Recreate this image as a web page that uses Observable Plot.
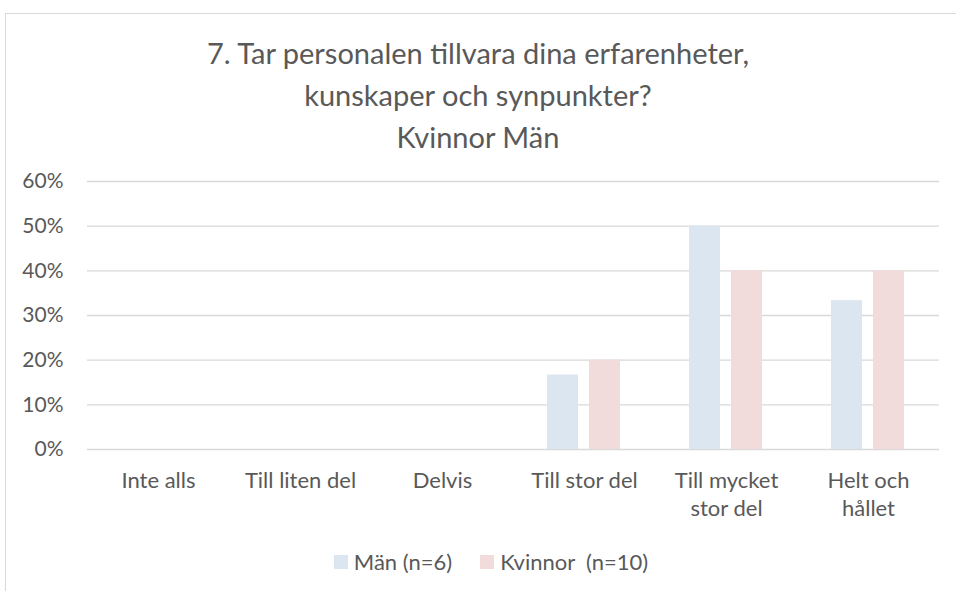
<!DOCTYPE html>
<html>
<head>
<meta charset="utf-8">
<script src="https://cdn.jsdelivr.net/npm/d3@7"></script>
<script src="https://cdn.jsdelivr.net/npm/@observablehq/plot@0.6"></script>
<style>
  html, body { margin: 0; padding: 0; }
  body { width: 956px; height: 591px; overflow: hidden; background: #fff; position: relative;
         font-family: Lato, "Open Sans", sans-serif; color: #595959; }
  #frame { position: absolute; left: 5px; top: 13px; width: 1000px; height: 1000px;
           border: 1px solid #d9d9d9; box-sizing: border-box; }
  #title { position: absolute; left: 0; top: 32px; width: 956px; text-align: center;
           font-size: 29px; line-height: 42px; }
  #chart { position: absolute; left: 0; top: 160px; }
  #legend { position: absolute; left: 0; top: 548px; width: 982px; display: flex;
            justify-content: center; align-items: center; font-size: 22px; white-space: pre; }
  .item { display: flex; align-items: center; margin: 0 14px; }
  .sw { display: inline-block; width: 14px; height: 14px; margin-right: 6px; }
</style>
</head>
<body>
<div id="frame"></div>
<div id="title"></div>
<div id="chart"></div>
<div id="legend"></div>
<script>
const titleLines = ["7. Tar personalen tillvara dina erfarenheter,", "kunskaper och synpunkter?", "Kvinnor Män"];
const categories = ["Inte alls", "Till liten del", "Delvis", "Till stor del", "Till mycket stor del", "Helt och hållet"];
const tickLabels = ["Inte alls", "Till liten del", "Delvis", "Till stor del", "Till mycket\nstor del", "Helt och\nhållet"];
const series = ["Män (n=6)", "Kvinnor  (n=10)"];
const manValues = [0, 0, 0, 0.1667, 0.5, 0.3333];
const kvinnorValues = [0, 0, 0, 0.2, 0.4, 0.4];
const colors = ["#dce6f1", "#f2dcdb"];
const yTicks = [0, 0.1, 0.2, 0.3, 0.4, 0.5, 0.6];

document.getElementById("title").innerHTML = titleLines.map(t => `<div>${t}</div>`).join("");

const rows = [];
categories.forEach((c, i) => {
  rows.push({category: c, series: series[0], value: manValues[i]});
  rows.push({category: c, series: series[1], value: kvinnorValues[i]});
});

const labelOf = new Map(categories.map((c, i) => [c, tickLabels[i]]));

const chart = Plot.plot({
  width: 956,
  height: 380,
  marginTop: 21,
  marginBottom: 91,
  marginLeft: 87,
  marginRight: 17,
  style: {fontFamily: "Lato, 'Open Sans', sans-serif", fontSize: "20px", color: "#595959", background: "transparent"},
  fx: {domain: categories, padding: 0, label: null, axis: null},
  x: {domain: series, paddingInner: 0.26, paddingOuter: 0.82, axis: null},
  y: {domain: [0, 0.6], label: null},
  color: {domain: series, range: colors},
  marks: [
    Plot.gridY(yTicks, {stroke: "#d9d9d9", strokeOpacity: 1, strokeWidth: 1.3}),
    Plot.barY(rows, {fx: "category", x: "series", y: "value", fill: "series"}),
    Plot.axisY(yTicks, {tickSize: 0, tickPadding: 24, tickFormat: d3.format(".0%"), label: null, fontSize: 21}),
    Plot.axisFx({anchor: "bottom", tickSize: 0, tickPadding: 18, tickFormat: d => labelOf.get(d), label: null, lineHeight: 1.3, fontSize: 22})
  ]
});
document.getElementById("chart").appendChild(chart);

const legend = document.getElementById("legend");
series.forEach((s, i) => {
  const item = document.createElement("div");
  item.className = "item";
  const sw = document.createElement("span");
  sw.className = "sw";
  sw.style.background = colors[i];
  const lab = document.createElement("span");
  lab.textContent = s;
  item.appendChild(sw);
  item.appendChild(lab);
  legend.appendChild(item);
});
</script>
</body>
</html>
